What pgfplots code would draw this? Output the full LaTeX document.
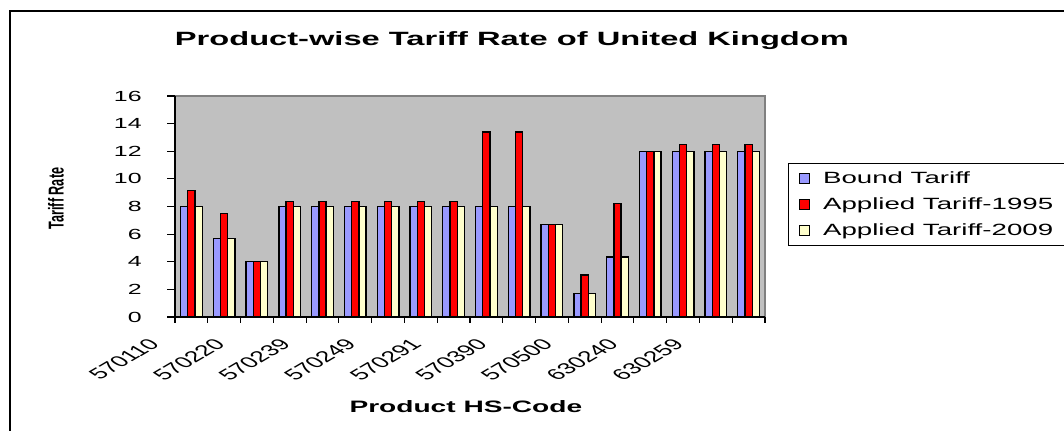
\documentclass[border=0pt]{standalone}
\usepackage{fontspec}
% horizontal text is set wide; rotated labels use the plain family and are stretched after rotation
\setmainfont{Liberation Sans}[FakeStretch=1.7]
\newfontfamily\plainsans{Liberation Sans}
\usepackage{pgfplots}
\pgfplotsset{compat=1.18}
\definecolor{bound}{HTML}{9999FF}
\definecolor{appA}{HTML}{FF0000}
\definecolor{appB}{HTML}{FFFFCC}
\definecolor{plotbg}{HTML}{C0C0C0}
\definecolor{framegray}{HTML}{808080}

\pgfplotsset{
  tarbar/.style={draw=black, line width=1pt,
    legend image code/.code={\draw[##1, line width=0.8pt] (0pt,-3.5pt) rectangle (7.5pt,4pt);}},
}
\tikzset{
  % category name: rotated 45 degrees, then widened like the rest of the chart
  hscode/.style={font=\plainsans\fontsize{11.6}{13}\selectfont, inner sep=0pt, anchor=north east,
    cm={1.202,0.707,-1.202,0.707,(0,0)}},
}

\begin{document}
\begin{tikzpicture}
% chart frame (runs past the right and bottom edges of the page)
\begin{scope}[x=0.75pt,y=0.75pt]
  \draw[line width=1pt] (10,-40) rectangle (1120,420);
\end{scope}
\begin{axis}[
  at={(131.25pt,85.5pt)}, anchor=south west,
  scale only axis, width=442.5pt, height=165.75pt,
  xmin=0.5, xmax=18.5, ymin=0, ymax=16,
  enlargelimits=false, clip=false,
  ybar, bar width=0.22,
  axis lines*=left,
  axis line style={black, line width=1.1pt},
  axis background/.style={fill=plotbg, draw=framegray, line width=1pt},
  tick align=outside,
  ytick={0,2,...,16},
  xtick={1,3,...,17},
  xticklabels={,,,,,,,,},
  minor xtick={0.5,1.5,...,18.5},
  major x tick style={draw=none},
  minor x tick style={black, line width=0.9pt},
  ytick style={black, line width=0.9pt},
  major tick length=6pt, minor tick length=4.5pt,
  /pgf/number format/assume math mode=true,
  yticklabel style={font=\fontsize{11}{13}\selectfont, anchor=east, inner sep=0pt, xshift=-18.75pt},
  every axis title shift=0pt,
  title={Product-wise Tariff Rate of United Kingdom},
  title style={at={(rel axis cs:0.571,1.2276)}, anchor=base, font=\bfseries\fontsize{14.4}{16}\selectfont},
  xlabel={Product HS-Code},
  xlabel style={at={(rel axis cs:0.493,-0.434)}, anchor=base, font=\bfseries\fontsize{12.4}{14}\selectfont},
  ylabel={Tariff Rate},
  every axis y label/.style={at={(rel axis cs:-0.2017,0.536)}, anchor=center, cm={0,1,-1.7,0,(0,0)},
    font=\plainsans\bfseries\fontsize{9.5}{11}\selectfont},
  legend style={at={(rel axis cs:1.039,0.697)}, anchor=north west, draw=black, line width=1pt,
    fill=white, font=\fontsize{12.2}{14}\selectfont, inner xsep=7.5pt, inner ysep=2pt,
    row sep=1.25pt, column sep=8pt, nodes={text height=11pt, text depth=3.25pt, inner ysep=2pt}},
  legend cell align=left,
]
\addplot[tarbar, fill=bound, bar shift=-0.22] coordinates {
  (1,8) (2,5.7) (3,4) (4,8) (5,8) (6,8) (7,8) (8,8) (9,8)
  (10,8) (11,8) (12,6.7) (13,1.7) (14,4.35) (15,12) (16,12) (17,12) (18,12)};
\addplot[tarbar, fill=appA, bar shift=0] coordinates {
  (1,9.15) (2,7.5) (3,4) (4,8.35) (5,8.35) (6,8.35) (7,8.35) (8,8.35) (9,8.35)
  (10,13.4) (11,13.4) (12,6.7) (13,3.05) (14,8.2) (15,12) (16,12.5) (17,12.5) (18,12.5)};
\addplot[tarbar, fill=appB, bar shift=0.22] coordinates {
  (1,8) (2,5.7) (3,4) (4,8) (5,8) (6,8) (7,8) (8,8) (9,8)
  (10,8) (11,8) (12,6.7) (13,1.7) (14,4.35) (15,12) (16,12) (17,12) (18,12)};
\legend{Bound Tariff, Applied Tariff-1995, Applied Tariff-2009}
% HS codes under every second group
\node[hscode] at (axis cs:0.164,-1.45) {570110};
\node[hscode] at (axis cs:2.164,-1.45) {570220};
\node[hscode] at (axis cs:4.164,-1.45) {570239};
\node[hscode] at (axis cs:6.164,-1.45) {570249};
\node[hscode] at (axis cs:8.164,-1.45) {570291};
\node[hscode] at (axis cs:10.164,-1.45) {570390};
\node[hscode] at (axis cs:12.164,-1.45) {570500};
\node[hscode] at (axis cs:14.164,-1.45) {630240};
\node[hscode] at (axis cs:16.164,-1.45) {630259};
\end{axis}
% page size: the frame and the legend box are cut at the right edge
\pgfresetboundingbox
\useasboundingbox (0pt,0pt) rectangle (798pt,323.25pt);
\end{tikzpicture}
\end{document}
